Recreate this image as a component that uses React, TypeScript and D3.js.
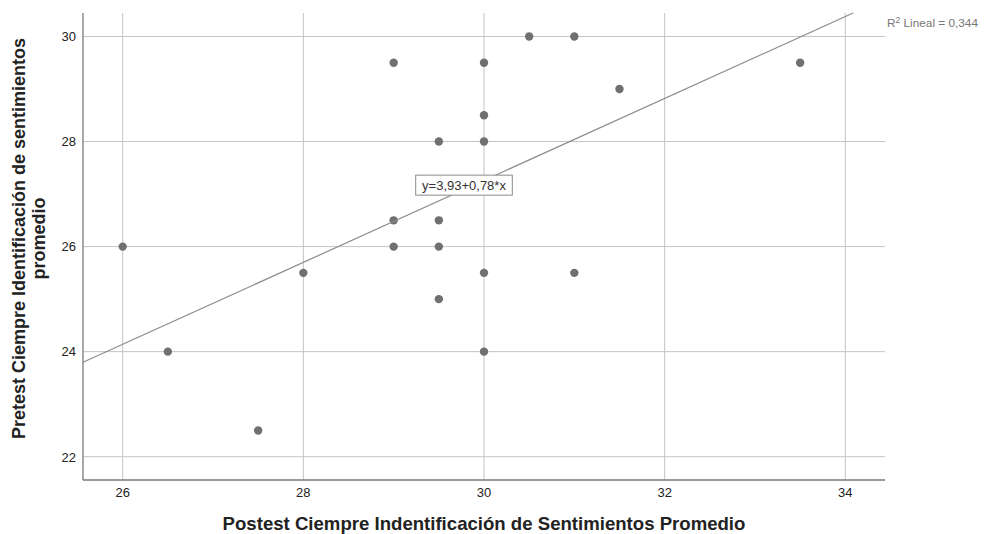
import React from "react";
import * as d3 from "d3";

const xTicks = [26, 28, 30, 32, 34];
const yTicks = [22, 24, 26, 28, 30];
const postest = [26, 26.5, 27.5, 28, 29, 29, 29, 29.5, 29.5, 29.5, 29.5, 30, 30, 30, 30, 30, 30.5, 31, 31, 31.5, 33.5];
const pretest = [26, 24, 22.5, 25.5, 29.5, 26.5, 26, 28, 26.5, 26, 25, 29.5, 28.5, 28, 25.5, 24, 30, 30, 25.5, 29, 29.5];
const fitIntercept = 3.86;
const fitSlope = 0.78;
const equationLabel = "y=3,93+0,78*x";
const r2Label = "0,344";
const xTitle = "Postest Ciempre Indentificación de Sentimientos Promedio";
const yTitleLines = ["Pretest Ciempre Identificación de sentimientos", "promedio"];

const W = 984, H = 534;
const left = 83, right = 885, top = 13, bottom = 480;
const font = "Arial, 'Liberation Sans', sans-serif";

export default function App() {
  const x = d3.scaleLinear().domain([26, 34]).range([122.7, 845.3]);
  const y = d3.scaleLinear().domain([22, 30]).range([456.7, 36.5]);
  const xMin = x.invert(left), yMax = y.invert(top);
  const xEnd = Math.min(x.invert(right), (yMax - fitIntercept) / fitSlope);
  const fitPts: [number, number][] = [[xMin, fitIntercept + fitSlope * xMin], [xEnd, fitIntercept + fitSlope * xEnd]];
  const line = d3.line<[number, number]>().x(d => x(d[0])).y(d => y(d[1]));
  const labX = x(30), labY = y(27.17);
  return (
    <svg width={W} height={H} style={{ position: "absolute", left: 0, top: 0, background: "#fff" }}>
      {yTicks.map(t => (
        <line key={"hy" + t} x1={left} x2={right} y1={y(t)} y2={y(t)} stroke="#c4c4c4" strokeWidth={1} />
      ))}
      {xTicks.map(t => (
        <line key={"vx" + t} x1={x(t)} x2={x(t)} y1={top} y2={bottom} stroke="#c4c4c4" strokeWidth={1} />
      ))}
      <line x1={left} x2={left} y1={top} y2={bottom} stroke="#7a7a7a" strokeWidth={1.3} />
      <line x1={left} x2={right} y1={bottom} y2={bottom} stroke="#7a7a7a" strokeWidth={1.3} />
      {yTicks.map(t => (
        <text key={"ty" + t} x={76} y={y(t) + 4.8} textAnchor="end" fontFamily={font} fontSize={13} fill="#222">{t}</text>
      ))}
      {xTicks.map(t => (
        <text key={"tx" + t} x={x(t)} y={497} textAnchor="middle" fontFamily={font} fontSize={13} fill="#222">{t}</text>
      ))}
      {postest.map((v, i) => (
        <circle key={"p" + i} cx={x(v)} cy={y(pretest[i])} r={4.2} fill="#707070" />
      ))}
      <path d={line(fitPts) || ""} stroke="#8c8c8c" strokeWidth={1.2} fill="none" />
      <rect x={labX - 68.3} y={labY - 10} width={96.6} height={20} fill="#fff" stroke="#8a8a8a" strokeWidth={1} />
      <text x={labX - 20} y={labY + 4.8} textAnchor="middle" fontFamily={font} fontSize={13} fill="#333">{equationLabel}</text>
      <text x={887} y={27} fontFamily={font} fontSize={11.8} fill="#777">
        R<tspan dy={-4.5} fontSize={8.5}>2</tspan><tspan dy={4.5}>{" Lineal = " + r2Label}</tspan>
      </text>
      <text x={484} y={530} textAnchor="middle" fontFamily={font} fontSize={18.6} fontWeight="bold" fill="#222">{xTitle}</text>
      <text transform={`translate(25,238.5) rotate(-90)`} textAnchor="middle" fontFamily={font} fontSize={18} fontWeight="bold" fill="#222">
        <tspan x={0} dy={0}>{yTitleLines[0]}</tspan>
        <tspan x={0} dy={20}>{yTitleLines[1]}</tspan>
      </text>
    </svg>
  );
}
